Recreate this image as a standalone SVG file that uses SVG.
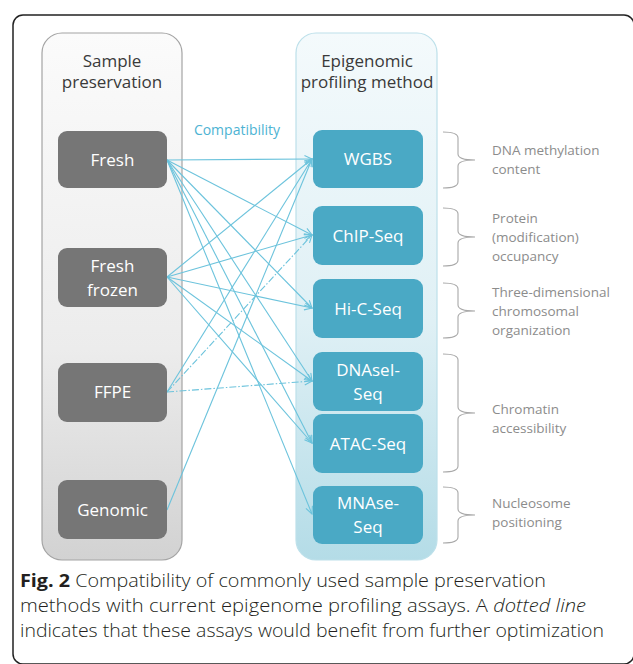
<svg xmlns="http://www.w3.org/2000/svg" width="633" height="664" viewBox="0 0 633 664">
  <defs>
    <linearGradient id="gLeft" x1="0" y1="0" x2="0" y2="1">
      <stop offset="0" stop-color="#fbfbfb"/>
      <stop offset="0.6" stop-color="#ececec"/>
      <stop offset="1" stop-color="#d2d2d2"/>
    </linearGradient>
    <linearGradient id="gRight" x1="0" y1="0" x2="0" y2="1">
      <stop offset="0" stop-color="#f4fafc"/>
      <stop offset="0.55" stop-color="#dff0f5"/>
      <stop offset="1" stop-color="#b4dce7"/>
    </linearGradient>
    <marker id="arr" markerWidth="10" markerHeight="10" refX="8" refY="4" orient="auto" markerUnits="userSpaceOnUse">
      <path d="M0.5,0.5 L8,4 L0.5,7.5" fill="none" stroke="#6cc3dc" stroke-width="1.1"/>
    </marker>
    <style>
      .t { font-family: "Open Sans", "Liberation Sans", sans-serif; }
      .title { font-size: 17px; fill: #3a3a3a; text-anchor: middle; }
      .node-l rect { fill: #767676; }
      .node-r rect { fill: #4aa9c5; }
      .nt { font-size: 17px; fill: #ffffff; text-anchor: middle; }
      .lab { font-size: 13.5px; fill: #8c8c8c; }
      .br { fill: none; stroke: #a8a8a8; stroke-width: 1.1; }
      .c { fill: none; stroke: #6cc3dc; stroke-width: 1.1; marker-end: url(#arr); }
      .d { stroke-dasharray: 7 2 1.5 2; }
      .cap { font-size: 18px; fill: #231f20; font-weight: 300; }
    </style>
  </defs>

  <rect x="13" y="15" width="621" height="649" rx="10" fill="#ffffff" stroke="#222222" stroke-width="1.5"/>

  <g id="panel-left">
    <rect x="42" y="33" width="140" height="527" rx="20" fill="url(#gLeft)" stroke="#a4a4a4" stroke-width="1.2"/>
    <text class="t title" x="112" y="67">Sample</text>
    <text class="t title" x="112" y="88">preservation</text>
  </g>
  <g id="panel-right">
    <rect x="296" y="33" width="141" height="527" rx="20" fill="url(#gRight)" stroke="#bde0ea" stroke-width="1.2"/>
    <text class="t title" x="367" y="67">Epigenomic</text>
    <text class="t title" x="367" y="88">profiling method</text>
  </g>

  <text class="t" x="237" y="135" font-size="14" fill="#4db3d3" text-anchor="middle">Compatibility</text>

  <g id="connectors">
    <line class="c" x1="167" y1="160" x2="312" y2="159"/>
    <line class="c" x1="167" y1="160" x2="312" y2="235"/>
    <line class="c" x1="167" y1="160" x2="312" y2="308"/>
    <line class="c" x1="167" y1="160" x2="312" y2="381"/>
    <line class="c" x1="167" y1="160" x2="312" y2="443"/>
    <line class="c" x1="167" y1="160" x2="312" y2="514"/>
    <line class="c" x1="167" y1="277" x2="312" y2="159"/>
    <line class="c" x1="167" y1="277" x2="312" y2="235"/>
    <line class="c" x1="167" y1="277" x2="312" y2="308"/>
    <line class="c" x1="167" y1="277" x2="312" y2="381"/>
    <line class="c" x1="167" y1="277" x2="312" y2="443"/>
    <line class="c" x1="167" y1="392" x2="312" y2="159"/>
    <line class="c d" x1="167" y1="392" x2="312" y2="235"/>
    <line class="c d" x1="167" y1="392" x2="312" y2="381"/>
    <line class="c" x1="167" y1="510" x2="312" y2="159"/>
  </g>

  <g id="fresh" class="node-l">
    <rect x="58" y="131" width="109" height="57" rx="9"/>
    <text class="t nt" x="112.5" y="166">Fresh</text>
  </g>
  <g id="fresh-frozen" class="node-l">
    <rect x="58" y="248" width="109" height="59" rx="9"/>
    <text class="t nt" x="112.5" y="272">Fresh</text>
    <text class="t nt" x="112.5" y="296">frozen</text>
  </g>
  <g id="ffpe" class="node-l">
    <rect x="58" y="363" width="109" height="59" rx="9"/>
    <text class="t nt" x="112.5" y="398">FFPE</text>
  </g>
  <g id="genomic" class="node-l">
    <rect x="58" y="480" width="109" height="59" rx="9"/>
    <text class="t nt" x="112.5" y="516">Genomic</text>
  </g>

  <g id="wgbs" class="node-r">
    <rect x="313" y="130" width="110" height="58" rx="9"/>
    <text class="t nt" x="368" y="165">WGBS</text>
  </g>
  <g id="chip-seq" class="node-r">
    <rect x="313" y="206" width="110" height="59" rx="9"/>
    <text class="t nt" x="368" y="242">ChIP-Seq</text>
  </g>
  <g id="hic-seq" class="node-r">
    <rect x="313" y="279" width="110" height="59" rx="9"/>
    <text class="t nt" x="368" y="315">Hi-C-Seq</text>
  </g>
  <g id="dnasei-seq" class="node-r">
    <rect x="313" y="352" width="110" height="59" rx="9"/>
    <text class="t nt" x="368" y="376">DNAseI-</text>
    <text class="t nt" x="368" y="400">Seq</text>
  </g>
  <g id="atac-seq" class="node-r">
    <rect x="313" y="414" width="110" height="59" rx="9"/>
    <text class="t nt" x="368" y="450">ATAC-Seq</text>
  </g>
  <g id="mnase-seq" class="node-r">
    <rect x="313" y="486" width="110" height="58" rx="9"/>
    <text class="t nt" x="368" y="509">MNAse-</text>
    <text class="t nt" x="368" y="533">Seq</text>
  </g>

  <g id="dna-methylation">
    <path class="br" d="M443,132 Q458,132 458,138 L458,154 Q458,160 475,160 Q458,160 458,166 L458,182 Q458,188 443,188"/>
    <text class="t lab" x="492" y="155">DNA methylation</text>
    <text class="t lab" x="492" y="174">content</text>
  </g>
  <g id="protein-occupancy">
    <path class="br" d="M443,208 Q458,208 458,214 L458,231 Q458,237 475,237 Q458,237 458,243 L458,260 Q458,266 443,266"/>
    <text class="t lab" x="492" y="223">Protein</text>
    <text class="t lab" x="492" y="242">(modification)</text>
    <text class="t lab" x="492" y="261">occupancy</text>
  </g>
  <g id="chromosomal-organization">
    <path class="br" d="M443,283 Q458,283 458,289 L458,305 Q458,311 475,311 Q458,311 458,317 L458,332 Q458,338 443,338"/>
    <text class="t lab" x="492" y="297">Three-dimensional</text>
    <text class="t lab" x="492" y="316">chromosomal</text>
    <text class="t lab" x="492" y="335">organization</text>
  </g>
  <g id="chromatin-accessibility">
    <path class="br" d="M443,354 Q458,354 458,360 L458,407 Q458,413 475,413 Q458,413 458,419 L458,466 Q458,472 443,472"/>
    <text class="t lab" x="492" y="414">Chromatin</text>
    <text class="t lab" x="492" y="433">accessibility</text>
  </g>
  <g id="nucleosome-positioning">
    <path class="br" d="M443,487 Q458,487 458,493 L458,509 Q458,515 475,515 Q458,515 458,521 L458,537 Q458,543 443,543"/>
    <text class="t lab" x="492" y="508">Nucleosome</text>
    <text class="t lab" x="492" y="527">positioning</text>
  </g>

  <g id="caption">
    <text class="t cap" x="20" y="587" textLength="526" lengthAdjust="spacingAndGlyphs"><tspan font-weight="bold">Fig. 2</tspan> Compatibility of commonly used sample preservation</text>
    <text class="t cap" x="20" y="612" textLength="566" lengthAdjust="spacingAndGlyphs">methods with current epigenome profiling assays. A <tspan font-style="italic">dotted line</tspan></text>
    <text class="t cap" x="20" y="637" textLength="584" lengthAdjust="spacingAndGlyphs">indicates that these assays would benefit from further optimization</text>
  </g>
</svg>
